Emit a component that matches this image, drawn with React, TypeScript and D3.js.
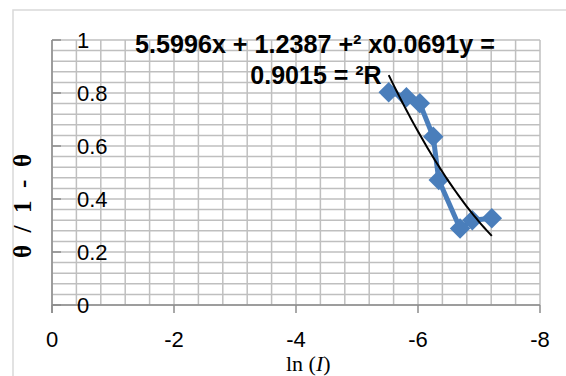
import * as d3 from 'd3';

const lnI = [-5.52, -5.81, -6.03, -6.25, -6.34, -6.69, -6.89, -7.21];
const ratio = [0.803, 0.784, 0.761, 0.635, 0.472, 0.289, 0.32, 0.327];
const trendCoef = [0.0691, 1.2387, 5.5996]; // a x^2 + b x + c
const xTicks = [0, -2, -4, -6, -8];
const yTicks = [0, 0.2, 0.4, 0.6, 0.8, 1];
const eqLine1 = '5.5996x + 1.2387 +\u00B2 x0.0691y =';
const eqLine2 = '0.9015 = \u00B2R';

export default function App() {
  const width = 566;
  const height = 376;
  const x = d3.scaleLinear().domain([0, -8]).range([52, 540]);
  const y = d3.scaleLinear().domain([0, 1]).range([305, 40]);

  const vGrid = d3.range(0, 21).map((i) => -i * 0.4);
  const hGrid = d3.range(0, 26).map((i) => i * 0.04);

  const points = lnI.map((v, i) => [v, ratio[i]] as [number, number]);
  const line = d3
    .line<[number, number]>()
    .x((d) => x(d[0]))
    .y((d) => y(d[1]));

  const [lo, hi] = d3.extent(lnI) as [number, number];
  const trendX = d3.range(0, 41).map((i) => hi - ((hi - lo) * i) / 40);
  const trend = trendX.map(
    (v) => [v, trendCoef[0] * v * v + trendCoef[1] * v + trendCoef[2]] as [number, number]
  );

  const diamond = d3.symbol().type(d3.symbolSquare).size(210)();

  return (
    <svg
      width={width}
      height={height}
      style={{ position: 'absolute', left: 0, top: 0, background: '#fff' }}
      fontFamily="'Liberation Sans', Arial, sans-serif"
    >
      <rect width={width} height={height} fill="#fff" />
      <path d={`M13,${height} L13,10 L${width},10`} fill="none" stroke="#d9d9d9" strokeWidth="1.5" />

      {/* grid */}
      <g stroke="#bfbfbf" strokeWidth="1.5">
        {hGrid.map((v, i) => (
          <line key={`h${i}`} x1={x(0)} x2={x(-8)} y1={y(v)} y2={y(v)} />
        ))}
        {vGrid.map((v, i) => (
          <line key={`v${i}`} x1={x(v)} x2={x(v)} y1={y(0)} y2={y(1)} />
        ))}
      </g>

      {/* axes */}
      <g stroke="#8c8c8c" strokeWidth="1.5">
        <line x1={x(0)} x2={x(0)} y1={y(1)} y2={y(0) + 8} />
        <line x1={x(0)} x2={x(-8)} y1={y(0)} y2={y(0)} />
        {xTicks.map((t) => (
          <line key={`xt${t}`} x1={x(t)} x2={x(t)} y1={y(0)} y2={y(0) + 8} />
        ))}
        {yTicks.map((t) => (
          <line key={`yt${t}`} x1={x(0)} x2={x(0) + 9} y1={y(t)} y2={y(t)} />
        ))}
      </g>

      {xTicks.map((t) => (
        <text key={`xl${t}`} x={x(t)} y={347} textAnchor="middle" fontSize="22" fill="#000">
          {t === 0 ? '0' : `-${Math.abs(t)}`}
        </text>
      ))}
      {yTicks.map((t) => (
        <text key={`yl${t}`} x={77} y={y(t) + 8} textAnchor="start" fontSize="22" fill="#000">
          {t}
        </text>
      ))}

      {/* series */}
      <path d={line(points) ?? ''} fill="none" stroke="#4a7ebb" strokeWidth="5" strokeLinejoin="round" />
      {points.map((p, i) => (
        <path
          key={`m${i}`}
          d={diamond ?? ''}
          transform={`translate(${x(p[0])},${y(p[1])}) rotate(45)`}
          fill="#4a7ebb"
        />
      ))}
      <path d={line(trend) ?? ''} fill="none" stroke="#000" strokeWidth="2" />

      {/* equation */}
      <text x={315} y={53} textAnchor="middle" fontSize="25" fontWeight="bold" fill="#000" textLength={360} lengthAdjust="spacingAndGlyphs">
        {eqLine1}
      </text>
      <text x={316} y={84} textAnchor="middle" fontSize="25" fontWeight="bold" fill="#000">
        {eqLine2}
      </text>

      {/* axis titles */}
      <text
        transform="translate(31,206) rotate(-90)"
        textAnchor="middle"
        fontFamily="'Liberation Serif', 'Times New Roman', serif"
        fontWeight="bold"
        fontSize="25"
        fill="#000"
        textLength={104}
        lengthAdjust="spacing"
      >
        θ / 1 - θ
      </text>
      <text x={286} y={371} fontFamily="'Liberation Serif', 'Times New Roman', serif" fontSize="22" fill="#000">
        ln (<tspan fontStyle="italic">I</tspan>)
      </text>
    </svg>
  );
}
